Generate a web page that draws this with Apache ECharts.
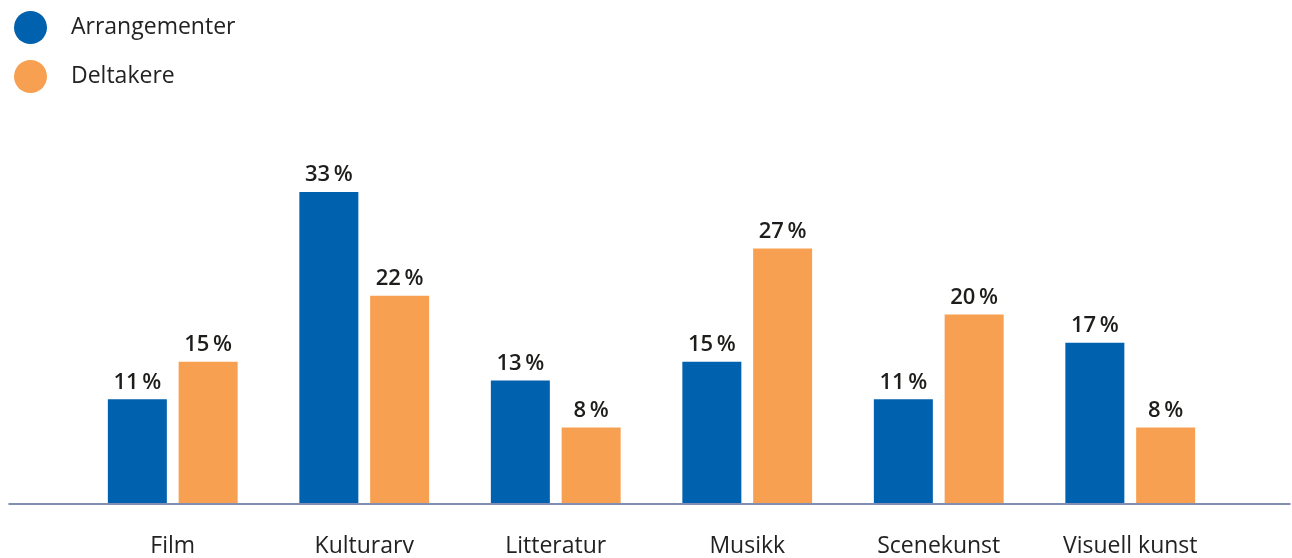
<!DOCTYPE html>
<html>
<head>
<meta charset="utf-8">
<script src="https://cdn.jsdelivr.net/npm/echarts@6/dist/echarts.min.js"></script>
<style>
  html, body { margin: 0; padding: 0; background: #fff; }
  #chart { width: 1292px; height: 558px; }
</style>
</head>
<body>
<div id="chart"></div>
<script>
// Share of events and participants by art form (percent)
const categories = ['Film', 'Kulturarv', 'Litteratur', 'Musikk', 'Scenekunst', 'Visuell kunst'];
const seriesNames = ['Arrangementer', 'Deltakere'];
const arrangementer = [11, 33, 13, 15, 11, 17];
const deltakere = [15, 22, 8, 27, 20, 8];

const BLUE = '#0061ae';
const ORANGE = '#f8a052';
const FONT = '"Open Sans", "Noto Sans", sans-serif';

const chart = echarts.init(document.getElementById('chart'), null, { renderer: 'canvas' });

const valueLabel = {
  show: true,
  position: 'top',
  distance: 6,
  formatter: p => p.value + '\u2009%',
  color: '#1d1d1b',
  fontFamily: FONT,
  fontWeight: 600,
  fontSize: 22
};

chart.setOption({
  animation: false,
  backgroundColor: '#ffffff',
  legend: {
    orient: 'vertical',
    left: 9,
    top: 6,
    icon: 'circle',
    itemWidth: 33,
    itemHeight: 33,
    itemGap: 16,
    data: seriesNames,
    textStyle: {
      color: '#222222',
      fontFamily: FONT,
      fontWeight: 500,
      fontSize: 23,
      padding: [0, 0, 0, 19]
    }
  },
  grid: [
    { left: 77, width: 1149, top: 126, bottom: 54 },
    { left: 9, right: 2, top: 126, bottom: 54 }
  ],
  xAxis: [
    {
      type: 'category',
      gridIndex: 0,
      data: categories,
      axisLine: { show: false },
      axisTick: { show: false },
      axisLabel: {
        color: '#222222',
        fontFamily: FONT,
        fontWeight: 500,
        fontSize: 23,
        margin: 32
      }
    },
    {
      // full-width baseline
      type: 'category',
      gridIndex: 1,
      data: [''],
      z: 10,
      axisLine: { show: true, lineStyle: { color: '#5b6a9a', width: 1.5 } },
      axisTick: { show: false },
      axisLabel: { show: false }
    }
  ],
  yAxis: [
    { type: 'value', gridIndex: 0, min: 0, max: 40, show: false, splitLine: { show: false } },
    { type: 'value', gridIndex: 1, min: 0, max: 40, show: false, splitLine: { show: false } }
  ],
  series: [
    {
      name: seriesNames[0],
      type: 'bar',
      xAxisIndex: 0,
      yAxisIndex: 0,
      data: arrangementer,
      barWidth: 59,
      barGap: '20%',
      itemStyle: { color: BLUE },
      label: valueLabel
    },
    {
      name: seriesNames[1],
      type: 'bar',
      xAxisIndex: 0,
      yAxisIndex: 0,
      data: deltakere,
      barWidth: 59,
      barGap: '20%',
      itemStyle: { color: ORANGE },
      label: valueLabel
    }
  ]
});
</script>
</body>
</html>
